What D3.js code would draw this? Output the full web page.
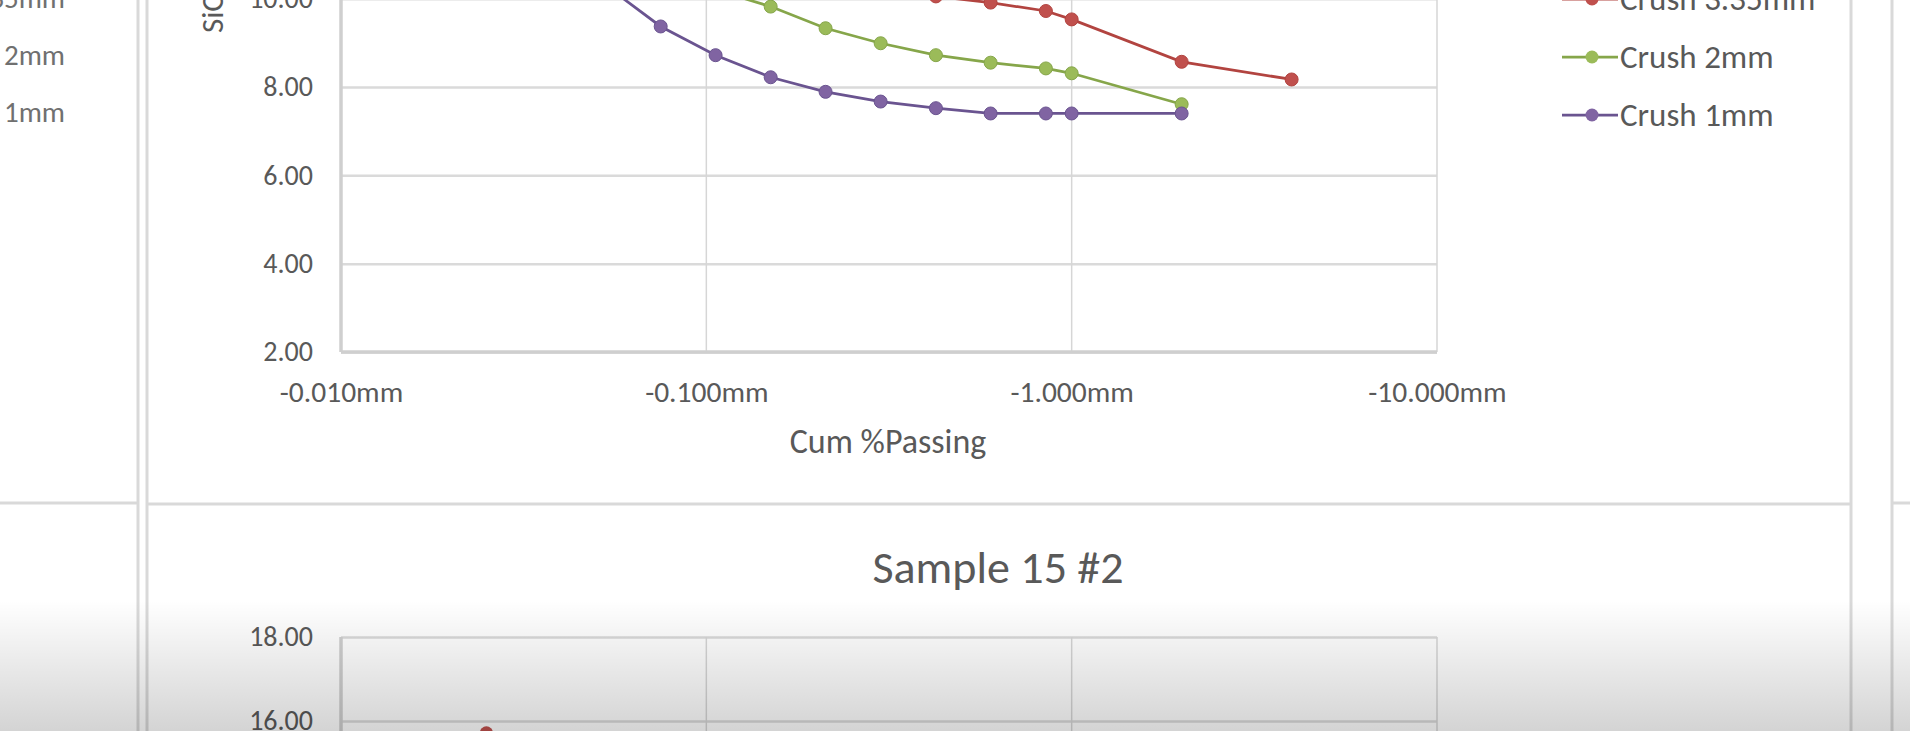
<!DOCTYPE html>
<html>
<head>
<meta charset="utf-8">
<script src="https://cdn.jsdelivr.net/npm/d3@7"></script>
<style>
  body { margin: 0; background: #fff; overflow: hidden; }
  svg { display: block; font-family: Calibri, Carlito, Lato, sans-serif; }
</style>
</head>
<body>
<svg width="1910" height="731"></svg>
<script>
// sieve sizes (mm) and SiO2 values per crush size
var sizes    = [0.038, 0.053, 0.075, 0.106, 0.15, 0.212, 0.3, 0.425, 0.6, 0.85, 1.0, 2.0, 4.0];
var crush335 = [null, null, null, null, 11.4, 10.7, 10.15, 10.05, 9.91, 9.72, 9.53, 8.57, 8.17];
var crush2   = [null, null, 11.1, 10.2, 9.82, 9.33, 8.99, 8.72, 8.55, 8.42, 8.31, 7.61, null];
var crush1   = [11.6, 10.3, 9.37, 8.72, 8.22, 7.89, 7.67, 7.52, 7.40, 7.40, 7.40, 7.40, null];
var seriesNames = ["Crush 3.35mm", "Crush 2mm", "Crush 1mm"];
var seriesColors = ["#c0504d", "#9bbb59", "#8064a2"];
var lineColors = ["#b24440", "#86a64a", "#6a5490"];

var xTicks = [0.01, 0.1, 1, 10];
var yTicks = [2, 4, 6, 8, 10, 12, 14, 16, 18];

// second chart (Sample 15 #2), only its top edge is in view
var title2 = "Sample 15 #2";
var sizes2 = [0.025, 0.038];
var crush335b = [15.72, 13.2];

var svg = d3.select("svg");
var xFmt = function(d) { return "-" + d3.format(".3f")(d) + "mm"; };
var yFmt = d3.format(".2f");
var grey = "#595959";

var x = d3.scaleLog().domain([0.01, 10]).range([341, 1437]);
var y = d3.scaleLinear().domain([2, 18]).range([352, 352 - 16 * 44.17]);
var y2 = d3.scaleLinear().domain([2, 18]).range([637 + 16 * 42, 637]);

// sheet cell borders / chart frames
var frame = svg.append("g").attr("stroke", "#d9d9d9").attr("stroke-width", 3).attr("fill", "none");
frame.append("line").attr("x1", 138).attr("x2", 138).attr("y1", 0).attr("y2", 731);
frame.append("line").attr("x1", 147).attr("x2", 147).attr("y1", 0).attr("y2", 731);
frame.append("line").attr("x1", 1851).attr("x2", 1851).attr("y1", 0).attr("y2", 731);
frame.append("line").attr("x1", 1892).attr("x2", 1892).attr("y1", 0).attr("y2", 731);
frame.append("line").attr("x1", 0).attr("x2", 138).attr("y1", 503).attr("y2", 503);
frame.append("line").attr("x1", 147).attr("x2", 1851).attr("y1", 504).attr("y2", 504);
frame.append("line").attr("x1", 1892).attr("x2", 1910).attr("y1", 503).attr("y2", 503);

// neighbouring chart legend on the left, cut by the window
svg.append("g").selectAll("text")
  .data(seriesNames)
  .enter().append("text")
    .attr("x", 65)
    .attr("y", function(d, i) { return -2 + i * 57 + 10; })
    .attr("text-anchor", "end")
    .style("font-size", "29px")
    .attr("fill", "#707070")
    .text(function(d) { return d; });

function drawGrid(g, yScale, top, bottom) {
  // horizontal gridlines + y labels
  g.append("g")
      .attr("transform", "translate(341,0)")
      .call(d3.axisLeft(yScale).tickValues(yTicks).tickFormat(yFmt).tickSize(-(1437 - 341)).tickPadding(28))
      .call(function(a) {
        a.select(".domain").remove();
        a.selectAll("line").attr("stroke", "#dadada").attr("stroke-width", 2.5);
        a.selectAll("text").attr("fill", grey).style("font-size", "28px").style("font-family", "Calibri, Carlito, Lato, sans-serif");
      });
  // vertical gridlines
  g.append("g").selectAll("line")
    .data(xTicks.slice(1))
    .enter().append("line")
      .attr("x1", function(d) { return x(d); })
      .attr("x2", function(d) { return x(d); })
      .attr("y1", top).attr("y2", bottom)
      .attr("stroke", "#d6d6d6").attr("stroke-width", 1.5);
  // left axis line
  g.append("line").attr("x1", 341).attr("x2", 341).attr("y1", top).attr("y2", bottom)
      .attr("stroke", "#cfcfcf").attr("stroke-width", 3.5);
}

// ---- upper chart ----
var g1 = svg.append("g");
drawGrid(g1, y, y(18), y(2));
g1.append("line").attr("x1", 341).attr("x2", 1437).attr("y1", y(2)).attr("y2", y(2))
    .attr("stroke", "#cfcfcf").attr("stroke-width", 3.5);

g1.append("g")
    .attr("transform", "translate(0," + y(2) + ")")
    .call(d3.axisBottom(x).tickValues(xTicks).tickFormat(xFmt).tickSize(0).tickPadding(29))
    .call(function(a) {
      a.select(".domain").remove();
      a.selectAll("text").attr("fill", grey).style("font-size", "29.5px").style("font-family", "Calibri, Carlito, Lato, sans-serif");
    });

g1.append("text")
    .attr("x", 888).attr("y", 453)
    .attr("text-anchor", "middle")
    .style("font-size", "34px")
    .attr("fill", grey)
    .text("Cum %Passing");

g1.append("text")
    .attr("transform", "translate(223,33) rotate(-90)")
    .attr("text-anchor", "start")
    .style("font-size", "31px")
    .attr("fill", grey)
    .text("SiO2");

var line = d3.line()
    .defined(function(d) { return d.val != null; })
    .x(function(d) { return x(d.size); })
    .y(function(d) { return y(d.val); });

var series = [crush335, crush2, crush1].map(function(vals, i) {
  return {
    id: seriesNames[i],
    values: sizes.map(function(s, j) { return {size: s, val: vals[j]}; })
  };
});

var channel = g1.selectAll(".channel")
  .data(series)
  .enter().append("g")
    .attr("class", "channel");

channel.append("path")
    .attr("fill", "none")
    .attr("stroke-width", 2.75)
    .attr("stroke", function(d, i) { return lineColors[i]; })
    .attr("d", function(d) { return line(d.values); });

channel.each(function(d, i) {
  d3.select(this).selectAll("circle")
    .data(d.values.filter(function(v) { return v.val != null; }))
    .enter().append("circle")
      .attr("cx", function(v) { return x(v.size); })
      .attr("cy", function(v) { return y(v.val); })
      .attr("r", 6.5)
      .attr("fill", seriesColors[i])
      .attr("stroke", lineColors[i])
      .attr("stroke-width", 1);
});

// legend
var legend = g1.selectAll(".legend")
  .data(seriesNames)
  .enter().append("g")
    .attr("class", "legend")
    .attr("transform", function(d, i) { return "translate(0," + (-1 + i * 58) + ")"; });

legend.append("line")
    .attr("x1", 1562).attr("x2", 1618)
    .attr("stroke-width", 2.75)
    .attr("stroke", function(d, i) { return lineColors[i]; });
legend.append("circle")
    .attr("cx", 1592).attr("r", 6.5)
    .attr("fill", function(d, i) { return seriesColors[i]; });
legend.append("text")
    .attr("x", 1620).attr("y", 11)
    .style("font-size", "33px")
    .attr("fill", grey)
    .text(function(d) { return d; });

// ---- lower chart ----
var g2 = svg.append("g");
g2.append("text")
    .attr("x", 998).attr("y", 583)
    .attr("text-anchor", "middle")
    .style("font-size", "46px")
    .attr("fill", grey)
    .text(title2);
drawGrid(g2, y2, y2(18), 760);

var line2 = d3.line()
    .x(function(d, j) { return x(sizes2[j]); })
    .y(function(d) { return y2(d); });
g2.append("path")
    .attr("fill", "none")
    .attr("stroke", lineColors[0])
    .attr("stroke-width", 2.75)
    .attr("d", line2(crush335b));
g2.selectAll(".pt")
  .data(crush335b)
  .enter().append("circle")
    .attr("class", "pt")
    .attr("cx", function(d, j) { return x(sizes2[j]); })
    .attr("cy", function(d) { return y2(d); })
    .attr("r", 6.5)
    .attr("fill", seriesColors[0]);

// greyish fade at the bottom of the frame
var grad = svg.append("defs").append("linearGradient")
    .attr("id", "fade").attr("x1", 0).attr("x2", 0).attr("y1", 0).attr("y2", 1);
grad.append("stop").attr("offset", "0").attr("stop-color", "#000").attr("stop-opacity", 0);
grad.append("stop").attr("offset", "1").attr("stop-color", "#000").attr("stop-opacity", 0.17);
svg.append("rect")
    .attr("x", 0).attr("y", 600).attr("width", 1910).attr("height", 131)
    .attr("fill", "url(#fade)");
</script>
</body>
</html>
